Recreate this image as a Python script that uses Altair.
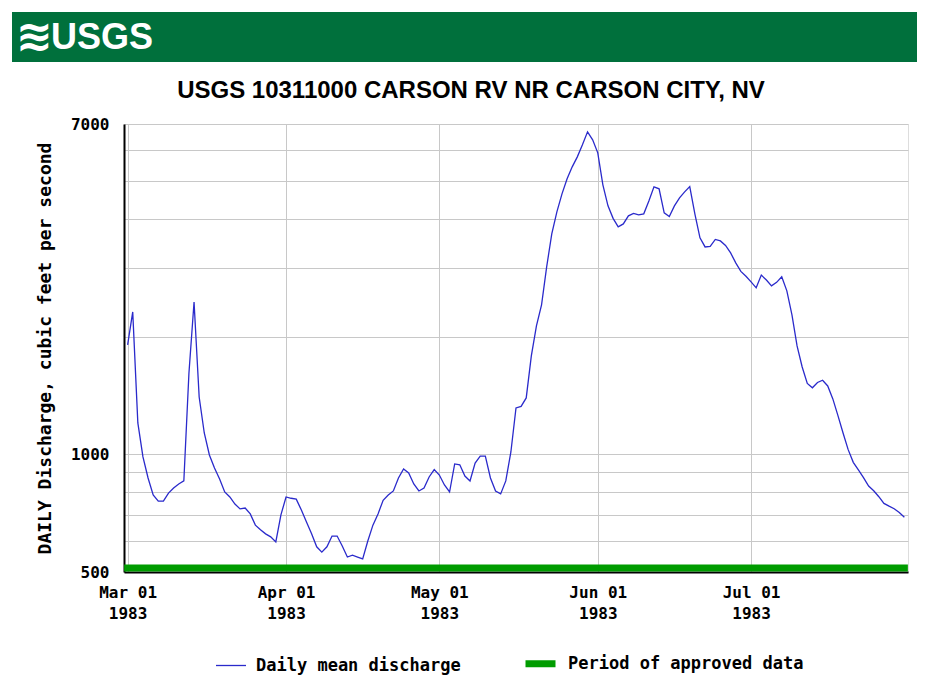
import altair as alt
import pandas as pd

# Daily mean discharge (cfs), Mar 1 - Jul 31 1983
discharge = [
    1906, 2314, 1203, 985, 870, 787, 759, 759, 796, 820,
    840, 855, 1615, 2454, 1402, 1134, 996, 923, 865, 801,
    778, 746, 725, 729, 704, 659, 641, 626, 615, 597,
    700, 778, 772, 768, 720, 671, 626, 580, 562, 580,
    618, 618, 583, 546, 552, 546, 540, 600, 659, 704,
    763, 787, 806, 870, 917, 896, 840, 806, 820, 875,
    914, 885, 835, 801, 945, 940, 880, 855, 950, 990,
    990, 870, 806, 792, 855, 1014, 1314, 1326, 1394, 1786,
    2131, 2412, 3017, 3664, 4171, 4638, 5068, 5438, 5768, 6192,
    6683, 6375, 5905, 4891, 4322, 4015, 3818, 3886, 4075, 4135,
    4099, 4123, 4450, 4834, 4778, 4147, 4060, 4322, 4531, 4693,
    4843, 4123, 3580, 3393, 3403, 3547, 3516, 3424, 3276, 3089,
    2937, 2855, 2761, 2667, 2874, 2792, 2698, 2754, 2845, 2619,
    2274, 1894, 1673, 1518, 1480, 1527, 1547, 1496, 1386, 1256,
    1134, 1028, 954, 913, 872, 830, 807, 779, 749, 737,
    726, 710, 690,
]
dates = pd.date_range("1983-03-01", periods=len(discharge), freq="D").strftime("%Y-%m-%dT%H:%M:%S").tolist()

series_names = ["Daily mean discharge", "Period of approved data"]
series_colors = ["#2a2acb", "#009c00"]
series_widths = [1.3, 7]

approved_start = ["1983-03-01T00:00:00"]
approved_end = ["1983-07-31T00:00:00"]

y_ticks = [500, 600, 700, 800, 900, 1000, 2000, 3000, 4000, 5000, 6000, 7000]
y_labels = [500, 1000, 7000]
x_ticks = [alt.DateTime(year=1983, month=m, date=1) for m in [3, 4, 5, 6, 7]]

title_text = "USGS 10311000 CARSON RV NR CARSON CITY, NV"
y_title = "DAILY Discharge, cubic feet per second"
logo_text = "USGS"

W, H = 784, 448
MONO = "DejaVu Sans Mono"
SANS = "Liberation Sans"

flow = pd.DataFrame({"date": dates, "q": discharge, "series": series_names[0]})
appr = pd.DataFrame({"start": approved_start, "end": approved_end, "series": [series_names[1]]})

label_expr = " || ".join(f"datum.value == {v}" for v in y_labels)
label_expr = f"({label_expr}) ? format(datum.value, 'd') : ''"

legend = alt.Legend(
    title=None, orient="none", legendX=91, legendY=521, direction="horizontal",
    symbolType="stroke", symbolSize=900, labelFont=MONO, labelFontSize=17,
    labelFontWeight="bold", labelColor="black", columnPadding=50, labelOffset=9,
    labelLimit=400,
)
color = alt.Color("series:N", scale=alt.Scale(domain=series_names, range=series_colors), legend=legend)
swidth = alt.StrokeWidth("series:N", scale=alt.Scale(domain=series_names, range=series_widths), legend=legend)

x_scale = alt.Scale(domain=[alt.DateTime(year=1983, month=2, date=28, hours=7),
                            alt.DateTime(year=1983, month=7, date=31, hours=17)])
y_scale = alt.Scale(type="log", domain=[500, 7000], nice=False)

x_axis = alt.Axis(
    values=x_ticks, title=None, grid=True, gridColor="#c8c8c8", ticks=False,
    labelExpr="[timeFormat(datum.value, '%b %d'), timeFormat(datum.value, '%Y')]",
    labelFont=MONO, labelFontSize=16, labelFontWeight="bold", labelColor="black",
    labelPadding=12, labelLineHeight=21, domainColor="black", domainWidth=2,
)
y_axis = alt.Axis(
    values=y_ticks, labelExpr=label_expr, title=y_title, grid=True, gridColor="#c8c8c8",
    ticks=False, labelFont=MONO, labelFontSize=16, labelFontWeight="bold", labelColor="black",
    labelPadding=15, titleFont=MONO, titleFontSize=18, titleFontWeight="bold",
    titleColor="black", titlePadding=16, domainColor="black", domainWidth=2,
)

line = alt.Chart(flow).mark_line(interpolate="linear").encode(
    x=alt.X("date:T", scale=x_scale, axis=x_axis),
    y=alt.Y("q:Q", scale=y_scale, axis=y_axis),
    color=color,
    strokeWidth=swidth,
)

bar = alt.Chart(appr).mark_rule(strokeCap="square").encode(
    x="start:T", x2="end:T", y=alt.value(H - 4),
    color=color, strokeWidth=swidth,
)

one = pd.DataFrame({"k": [0]})
banner = alt.Chart(one).mark_rect(color="#00703c").encode(
    x=alt.value(-112), x2=alt.value(W + 20), y=alt.value(-112), y2=alt.value(-62)
)
logo = alt.Chart(one).mark_text(
    text=logo_text, font=SANS, fontSize=36, fontWeight="bold", color="white",
    align="left", baseline="middle"
).encode(x=alt.value(-73), y=alt.value(-86))
icon = alt.Chart(one).mark_text(
    text="≋", font="DejaVu Sans", fontSize=44, fontWeight="bold", color="white",
    align="left", baseline="middle"
).encode(x=alt.value(-108), y=alt.value(-86))
title = alt.Chart(one).mark_text(
    text=title_text, font=SANS, fontSize=24, fontWeight="bold", color="black",
    align="center", baseline="middle"
).encode(x=alt.value(347), y=alt.value(-33))

chart = alt.layer(banner, logo, icon, title, line, bar).properties(
    width=W, height=H,
    autosize=alt.AutoSizeParams(type="none"),
    padding={"left": 116, "top": 116, "right": 9, "bottom": 111},
).configure_view(stroke="#777777", strokeWidth=1.5).configure(background="white")

chart.save("out.html", embed_options={"renderer": "svg", "actions": False})
